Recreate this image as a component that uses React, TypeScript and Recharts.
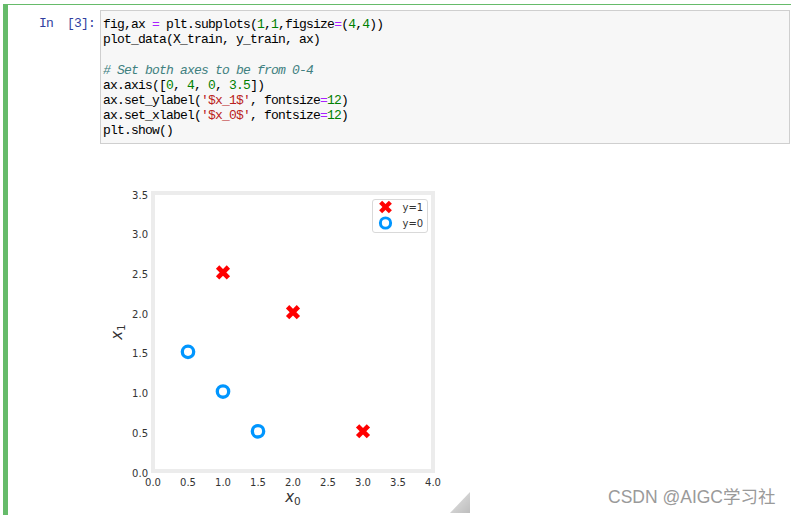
import { Label, Legend, ReferenceArea, Scatter, ScatterChart, XAxis, YAxis } from "recharts";

const posX = [1, 2, 3];
const posY = [2.5, 2, 0.5];
const negX = [0.5, 1, 1.5];
const negY = [1.5, 1, 0.5];
const xTicks = [0, 0.5, 1, 1.5, 2, 2.5, 3, 3.5, 4];
const yTicks = [0, 0.5, 1, 1.5, 2, 2.5, 3, 3.5];
const seriesNames = ["y=1", "y=0"];

const RED = "#ff0000";
const BLUE = "#0096ff";
const GREEN = "#66bb6a";

const posData = posX.map((x, i) => ({ x, y: posY[i] }));
const negData = negX.map((x, i) => ({ x, y: negY[i] }));

// notebook cell source, split into highlighted tokens
const codeLines: [string, string][][] = [
  [["fig,ax ", "n"], ["=", "o"], [" plt.subplots(", "n"], ["1", "d"], [",", "n"], ["1", "d"], [",figsize", "n"], ["=", "o"], ["(", "n"], ["4", "d"], [",", "n"], ["4", "d"], ["))", "n"]],
  [["plot_data(X_train, y_train, ax)", "n"]],
  [],
  [["# Set both axes to be from 0-4", "c"]],
  [["ax.axis([", "n"], ["0", "d"], [", ", "n"], ["4", "d"], [", ", "n"], ["0", "d"], [", ", "n"], ["3.5", "d"], ["])", "n"]],
  [["ax.set_ylabel(", "n"], ["'$x_1$'", "s"], [", fontsize", "n"], ["=", "o"], ["12", "d"], [")", "n"]],
  [["ax.set_xlabel(", "n"], ["'$x_0$'", "s"], [", fontsize", "n"], ["=", "o"], ["12", "d"], [")", "n"]],
  [["plt.show()", "n"]],
];

const tokenColor: Record<string, string> = {
  n: "#000000",
  o: "#aa22ff",
  d: "#008000",
  s: "#ba2121",
  c: "#408080",
};

const monoFont = "'Liberation Mono', 'DejaVu Sans Mono', monospace";
const tickFont = "'DejaVu Sans', sans-serif";

function XMark({ cx, cy, scale = 1 }: { cx: number; cy: number; scale?: number }) {
  const d = 5.4 * scale;
  return (
    <g stroke={RED} strokeWidth={4.7 * scale}>
      <line x1={cx - d} y1={cy - d} x2={cx + d} y2={cy + d} />
      <line x1={cx - d} y1={cy + d} x2={cx + d} y2={cy - d} />
    </g>
  );
}

function OMark({ cx, cy, scale = 1 }: { cx: number; cy: number; scale?: number }) {
  return <circle cx={cx} cy={cy} r={5.7 * scale} fill="none" stroke={BLUE} strokeWidth={3.3 * scale} />;
}

function YTick(p: any) {
  return (
    <text x={p.x} y={p.y} dy={5.5} textAnchor="end" fontSize={10} fill="#333" fontFamily={tickFont}>
      {Number(p.payload.value).toFixed(1)}
    </text>
  );
}

function XTick(p: any) {
  return (
    <text x={p.x} y={p.y} dy={8.5} textAnchor="middle" fontSize={10} fill="#333" fontFamily={tickFont}>
      {Number(p.payload.value).toFixed(1)}
    </text>
  );
}

function XLabel({ viewBox }: any) {
  const cx = viewBox.x + viewBox.width / 2;
  const y = viewBox.y + 31;
  return (
    <text x={cx} y={y} textAnchor="middle" fontFamily={tickFont} fill="#333">
      <tspan fontSize={15} fontStyle="italic">x</tspan>
      <tspan fontSize={10.5} dy={3}>0</tspan>
    </text>
  );
}

function YLabel({ viewBox }: any) {
  const x = viewBox.x + 22;
  const cy = viewBox.y + viewBox.height / 2;
  return (
    <text x={x} y={cy} textAnchor="middle" fontFamily={tickFont} fill="#333" transform={`rotate(-90, ${x}, ${cy})`}>
      <tspan fontSize={15} fontStyle="italic">x</tspan>
      <tspan fontSize={10.5} dy={3}>1</tspan>
    </text>
  );
}

function LegendBox() {
  return (
    <div
      style={{
        width: 56,
        height: 34,
        boxSizing: "border-box",
        border: "1px solid #d9d9d9",
        borderRadius: 3,
        background: "rgba(255,255,255,0.85)",
      }}
    >
      <svg width={54} height={32} style={{ display: "block" }}>
        <XMark cx={12.5} cy={7} scale={0.9} />
        <OMark cx={12.5} cy={23} scale={0.9} />
        <text x={29.5} y={10.5} fontSize={10} fill="#333" fontFamily={tickFont}>{seriesNames[0]}</text>
        <text x={29.5} y={26.5} fontSize={10} fill="#333" fontFamily={tickFont}>{seriesNames[1]}</text>
      </svg>
    </div>
  );
}

export default function App() {
  return (
    <div
      style={{
        position: "absolute",
        left: 0,
        top: 0,
        width: 791,
        height: 515,
        overflow: "hidden",
        background: "#ffffff",
      }}
    >
      <div style={{ position: "absolute", left: 3, top: 4, width: 788, height: 1, background: GREEN }} />
      <div style={{ position: "absolute", left: 3, top: 4, width: 5, height: 511, background: GREEN }} />

      <div
        style={{
          position: "absolute",
          left: 39,
          top: 15.5,
          fontFamily: monoFont,
          fontSize: 13,
          letterSpacing: -0.8,
          lineHeight: "15.2px",
          color: "#303f9f",
          whiteSpace: "pre",
        }}
      >
        {"In  [3]:"}
      </div>

      <div
        style={{
          position: "absolute",
          left: 100,
          top: 10,
          width: 690,
          height: 134,
          boxSizing: "border-box",
          border: "1px solid #cfcfcf",
          background: "#f7f7f7",
        }}
      >
        {codeLines.map((line, i) => (
          <div
            key={i}
            style={{
              position: "absolute",
              left: 2,
              top: 6 + i * 15.2,
              height: 15.2,
              lineHeight: "15.2px",
              fontFamily: monoFont,
              fontSize: 13,
              letterSpacing: -0.8,
              whiteSpace: "pre",
            }}
          >
            {line.map(([text, kind], j) => (
              <span key={j} style={{ color: tokenColor[kind], fontStyle: kind === "c" ? "italic" : "normal" }}>
                {text}
              </span>
            ))}
          </div>
        ))}
      </div>

      <div style={{ position: "absolute", left: 100, top: 180 }}>
        <ScatterChart width={345} height={335} margin={{ top: 13, right: 12, bottom: 14, left: 0 }}>
          <XAxis
            type="number"
            dataKey="x"
            domain={[0, 4]}
            ticks={xTicks}
            interval={0}
            height={30}
            axisLine={false}
            tickLine={false}
            tickSize={3}
            tickMargin={3}
            tick={XTick}
          >
            <Label content={XLabel} />
          </XAxis>
          <YAxis
            type="number"
            dataKey="y"
            domain={[0, 3.5]}
            ticks={yTicks}
            interval={0}
            width={53}
            axisLine={false}
            tickLine={false}
            tickSize={3}
            tickMargin={2}
            tick={YTick}
          >
            <Label content={YLabel} />
          </YAxis>
          <ReferenceArea x1={0} x2={4} y1={0} y2={3.5} fill="none" stroke="#ececec" strokeWidth={4} strokeOpacity={1} fillOpacity={0} />
          <Legend
            layout="vertical"
            align="center"
            verticalAlign="middle"
            wrapperStyle={{ top: 19, left: 272, width: 56 }}
            content={() => <LegendBox />}
          />
          <Scatter
            name={seriesNames[0]}
            data={posData}
            isAnimationActive={false}
            shape={(p: any) => <XMark cx={p.cx} cy={p.cy} />}
          />
          <Scatter
            name={seriesNames[1]}
            data={negData}
            isAnimationActive={false}
            shape={(p: any) => <OMark cx={p.cx} cy={p.cy} />}
          />
        </ScatterChart>
      </div>

      <svg style={{ position: "absolute", left: 450, top: 492 }} width={20} height={21}>
        <defs>
          <linearGradient id="grip" x1="0" y1="0" x2="1" y2="1">
            <stop offset="0" stopColor="#e6e6e6" />
            <stop offset="1" stopColor="#bdbdbd" />
          </linearGradient>
        </defs>
        <polygon points="20,0 20,21 0,21" fill="url(#grip)" />
      </svg>

      <div
        style={{
          position: "absolute",
          left: 608,
          top: 483,
          fontSize: 17.5,
          fontFamily: "'Liberation Sans', 'Noto Sans CJK SC', sans-serif",
          color: "#9a9a9a",
          textShadow: "0 0 1px #ffffff",
          whiteSpace: "nowrap",
        }}
      >
        CSDN @AIGC学习社
      </div>
    </div>
  );
}
